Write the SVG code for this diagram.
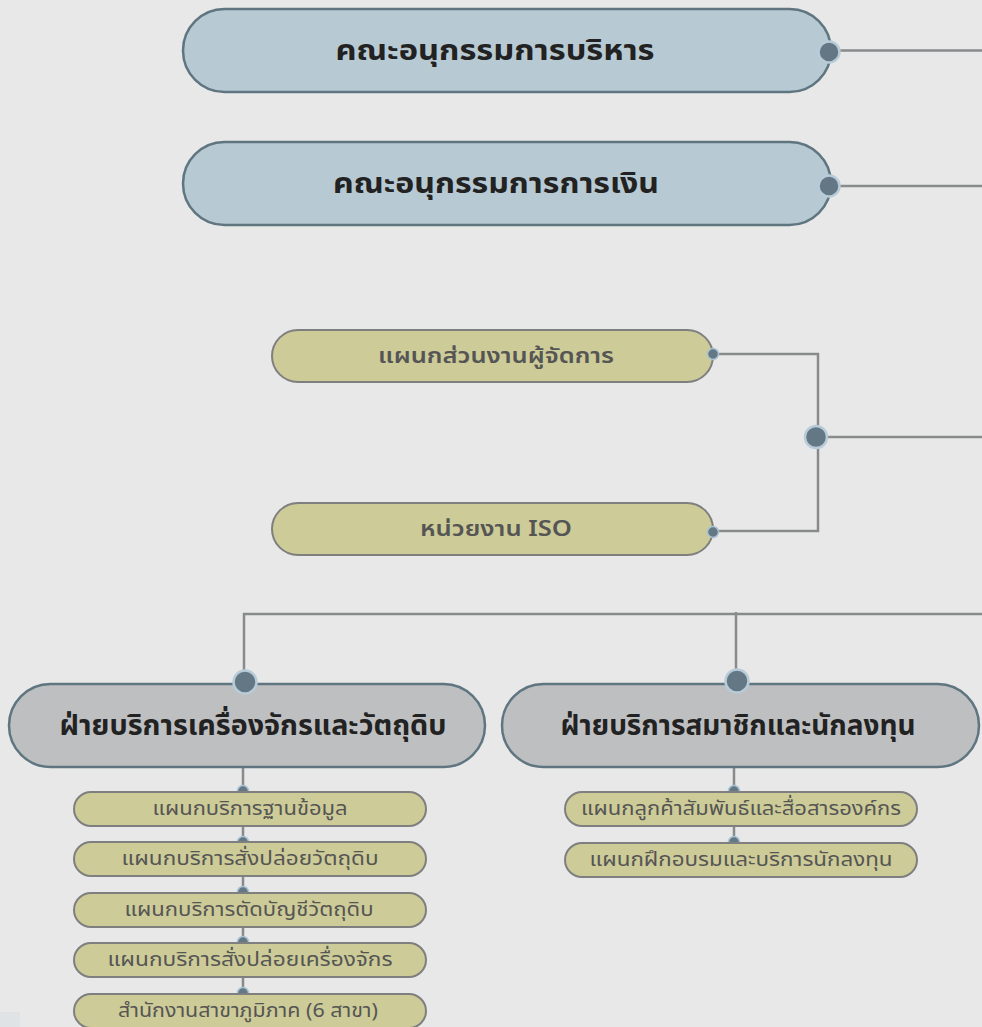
<svg xmlns="http://www.w3.org/2000/svg" width="982" height="1027" viewBox="0 0 982 1027">
<style>
.bg{fill:#e8e8e8}
.blue{fill:#b7c9d3;stroke:#5f7580;stroke-width:2.5}
.grey{fill:#bebfc1;stroke:#5f7580;stroke-width:2.5}
.yel{fill:#cdcb97;stroke:#7f7f7f;stroke-width:2}
.ln{fill:none;stroke:#888a8c;stroke-width:2.5}
.dotL{fill:#637884;stroke:#b7ccd8;stroke-width:2.5}
.dotS{fill:#637884;stroke:#aac4d4;stroke-width:1.5}
.t1{font-family:"Noto Sans Thai","Noto Sans","Liberation Sans",sans-serif;font-weight:700;font-size:28px;fill:#222;text-anchor:middle;dominant-baseline:central}
.t2{font-family:"Noto Sans Thai","Noto Sans","Liberation Sans",sans-serif;font-weight:600;font-size:22px;fill:#555;text-anchor:middle;dominant-baseline:central}
.t3{font-family:"Noto Sans Thai","Noto Sans","Liberation Sans",sans-serif;font-size:20px;fill:#555;text-anchor:middle;dominant-baseline:central}
</style>
<rect class="bg" x="0" y="0" width="982" height="1027"/>
<rect x="0" y="1012" width="20" height="15" fill="#dfe3e6"/>

<g id="connectors">
<path class="ln" d="M839 50.5H982"/>
<path class="ln" d="M839 186H982"/>
<path class="ln" d="M718 354H818V531H718"/>
<path class="ln" d="M828 437H982"/>
<path class="ln" d="M244 682V614H982"/>
<path class="ln" d="M736 682V612"/>
<path class="ln" d="M243 767V994"/>
<path class="ln" d="M734 767V843"/>
</g>

<g id="n1"><rect class="blue" x="183" y="9" width="648" height="83" rx="41.5"/><text class="t1" x="495" y="51" textLength="319" lengthAdjust="spacingAndGlyphs">คณะอนุกรรมการบริหาร</text><circle class="dotL" cx="829" cy="52" r="10.5"/></g>
<g id="n2"><rect class="blue" x="183" y="142" width="648" height="83" rx="41.5"/><text class="t1" x="496" y="184" textLength="326" lengthAdjust="spacingAndGlyphs">คณะอนุกรรมการการเงิน</text><circle class="dotL" cx="829" cy="186" r="10.5"/></g>

<g id="n3"><rect class="yel" x="272" y="330" width="441" height="52" rx="26"/><text class="t2" x="496" y="356" textLength="236" lengthAdjust="spacingAndGlyphs">แผนกส่วนงานผู้จัดการ</text><circle class="dotS" cx="713" cy="354" r="5.5"/></g>
<g id="n4"><rect class="yel" x="272" y="503" width="441" height="52" rx="26"/><text class="t2" x="496" y="529" textLength="152" lengthAdjust="spacingAndGlyphs">หน่วยงาน ISO</text><circle class="dotS" cx="713" cy="532" r="5.5"/></g>
<g id="hub"><circle class="dotL" cx="816" cy="437" r="11"/></g>

<g id="n5"><rect class="grey" x="9" y="684" width="476" height="83" rx="41.5"/><text class="t1" x="253" y="726" textLength="387" lengthAdjust="spacingAndGlyphs">ฝ่ายบริการเครื่องจักรและวัตถุดิบ</text><circle class="dotL" cx="245" cy="682" r="11.5"/></g>
<g id="n6"><rect class="grey" x="502" y="684" width="477" height="83" rx="41.5"/><text class="t1" x="738" y="726" textLength="355" lengthAdjust="spacingAndGlyphs">ฝ่ายบริการสมาชิกและนักลงทุน</text><circle class="dotL" cx="737" cy="681" r="11.5"/></g>

<g id="s1"><circle class="dotS" cx="243" cy="791" r="5.5"/><rect class="yel" x="74" y="792" width="352" height="34" rx="17"/><text class="t3" x="250" y="809" textLength="195" lengthAdjust="spacingAndGlyphs">แผนกบริการฐานข้อมูล</text></g>
<g id="s2"><circle class="dotS" cx="243" cy="842" r="5.5"/><rect class="yel" x="74" y="842" width="352" height="34" rx="17"/><text class="t3" x="250" y="859" textLength="257" lengthAdjust="spacingAndGlyphs">แผนกบริการสั่งปล่อยวัตถุดิบ</text></g>
<g id="s3"><circle class="dotS" cx="243" cy="892" r="5.5"/><rect class="yel" x="74" y="893" width="352" height="34" rx="17"/><text class="t3" x="249" y="910" textLength="249" lengthAdjust="spacingAndGlyphs">แผนกบริการตัดบัญชีวัตถุดิบ</text></g>
<g id="s4"><circle class="dotS" cx="243" cy="942" r="5.5"/><rect class="yel" x="74" y="943" width="352" height="34" rx="17"/><text class="t3" x="250" y="960" textLength="285" lengthAdjust="spacingAndGlyphs">แผนกบริการสั่งปล่อยเครื่องจักร</text></g>
<g id="s5"><circle class="dotS" cx="243" cy="993" r="5.5"/><rect class="yel" x="74" y="994" width="352" height="34" rx="17"/><text class="t3" x="248" y="1011" textLength="260" lengthAdjust="spacingAndGlyphs">สำนักงานสาขาภูมิภาค (6 สาขา)</text></g>

<g id="s6"><circle class="dotS" cx="734" cy="791" r="5.5"/><rect class="yel" x="565" y="792" width="352" height="34" rx="17"/><text class="t3" x="741" y="809" textLength="320" lengthAdjust="spacingAndGlyphs">แผนกลูกค้าสัมพันธ์และสื่อสารองค์กร</text></g>
<g id="s7"><circle class="dotS" cx="734" cy="842" r="5.5"/><rect class="yel" x="565" y="843" width="352" height="34" rx="17"/><text class="t3" x="741" y="860" textLength="303" lengthAdjust="spacingAndGlyphs">แผนกฝึกอบรมและบริการนักลงทุน</text></g>
</svg>
